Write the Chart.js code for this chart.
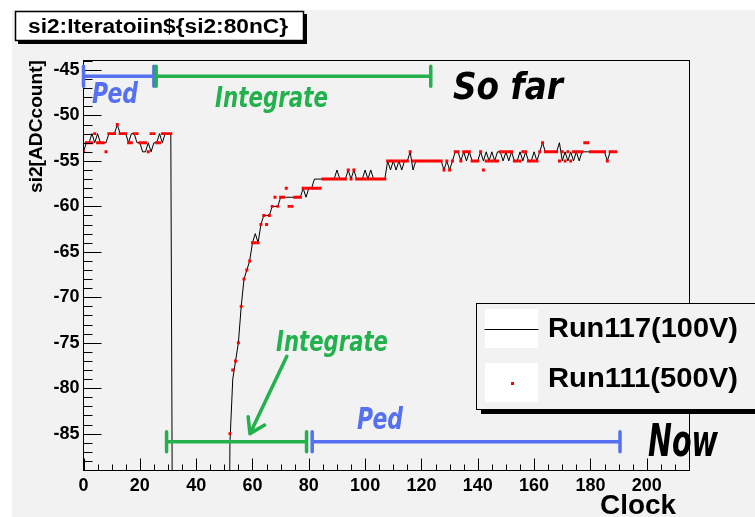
<!DOCTYPE html>
<html>
<head>
<meta charset="utf-8">
<script src="https://cdn.jsdelivr.net/npm/chart.js@4.4.1/dist/chart.umd.min.js"></script>
<style>
  html, body { margin: 0; padding: 0; background: #fff; }
</style>
</head>
<body>
<canvas id="chart" width="755" height="517"></canvas>
<script>
// ADC count per clock sample (index = clock). -130 = below the visible range.
const run117 = [
  -54,-53,-53,-52,-53,-52,-53,-53,-53,-52,-52,-52,-51,-52,-52,-52,-53,-52,-52,-53,-53,-54,-54,-53,-54,-53,-53,-52,-53,-52,-52,-52,
  -130,-130,-130,-130,-130,-130,-130,-130,-130,-130,-130,-130,-130,-130,-130,-130,-130,-130,-130,-130,
  -86,-79,-77,-75,-71,-68,-67,-66,-64,-63,-64,-62,-61,-61,-61,-60,-60,-60,-59,-59,-59,-59,-59,-59,-59,-59,-58,-59,-58,-58,
  -57,-57,-57,-57,-57,-57,-57,-57,-56,-57,-57,-57,-56,-57,-56,-57,-57,-57,-56,-57,-56,-57,-57,-57,-57,-57,
  -55,-56,-55,-56,-55,-56,-55,-55,-54,-56,-55,-55,-55,-55,-55,-55,-55,-55,-55,-55,-56,-55,-56,-55,
  -54,-54,-55,-54,-55,-54,-55,-55,-55,-54,-55,-54,-55,-54,-55,-54,-54,-55,-54,-55,-54,-55,-55,-54,-55,-54,-55,-55,-54,-55,-54,
  -53,-54,-54,-54,-54,-54,-53,-55,-54,-55,-54,-55,-54,-55,-54,-54,-54,-54,-54,-54,-54,-54,-54,-55,-54,-54
];
const run111 = [
  -54,-53,-53,-53,-52,-53,-53,-53,-54,-52,-52,-52,-51,-52,-52,-52,-53,-53,-52,-52,-53,-53,-53,-54,-52,-52,-53,-53,-52,-52,-52,-52,
  -130,-130,-130,-130,-130,-130,-130,-130,-130,-130,-130,-130,-130,-130,-130,-130,-130,-130,-130,-130,
  -85,-78,-77,-75,-71,-68,-67,-66,-64,-64,-64,-62,-61,-62,-61,-60,-59,-60,-59,-59,-58,-60,-60,-59,-59,-59,-58,-58,-58,-58,-58,-58,-58,
  -57,-57,-57,-57,-57,-57,-57,-57,-57,-56,-57,-56,-57,-57,-57,-57,-57,-57,-57,-57,-57,-57,-57,
  -55,-55,-55,-55,-55,-55,-55,-55,-54,-55,-55,-55,-55,-55,-55,-55,-55,-55,-55,-55,-56,-55,-56,-55,
  -54,-54,-55,-54,-54,-54,-55,-55,-55,-54,-56,-55,-55,-55,-55,-55,-54,-54,-54,-54,-54,-55,-55,-55,-54,-54,-55,-55,-55,-55,-54,
  -53,-54,-54,-54,-54,-54,-55,-54,-55,-54,-55,-54,-54,-54,-54,-53,-53,-54,-54,-54,-54,-54,-54,-55,-54,-54,-54
];
const seriesNames = ["Run117(100V)", "Run111(500V)"];
const titleText = "si2:Iteratoiin${si2:80nC}";
const xTitle = "Clock";
const yTitle = "si2[ADCcount]";

const GREEN = "#22b14c";
const BLUE = "#5570f0";
const FONT = '"Liberation Sans", Arial, sans-serif';
const HAND = '"DejaVu Sans Condensed", "DejaVu Sans", sans-serif';

function fitText(ctx, text, font, color, left, baseline, width) {
  ctx.save();
  ctx.font = font;
  ctx.fillStyle = color;
  ctx.textAlign = "left";
  ctx.textBaseline = "alphabetic";
  const w = ctx.measureText(text).width;
  ctx.translate(left, baseline);
  ctx.scale(width / w, 1);
  ctx.fillText(text, 0, 0);
  ctx.restore();
}

const rootStyle = {
  id: "rootStyle",
  beforeDraw(chart) {
    const ctx = chart.ctx;
    ctx.save();
    ctx.fillStyle = "#fff";
    ctx.fillRect(0, 0, chart.width, chart.height);
    ctx.fillStyle = "#f2f2f2";
    ctx.fillRect(12, 10, chart.width - 12, chart.height - 10);
    ctx.restore();
  },
  afterDatasetsDraw(chart) {
    const ctx = chart.ctx;
    const a = chart.chartArea;
    const xs = chart.scales.x, ys = chart.scales.y;
    const X = v => xs.getPixelForValue(v);
    const Y = v => ys.getPixelForValue(v);
    const L = Math.floor(a.left) + 0.5, T = Math.floor(a.top) + 0.5;
    const R = Math.floor(a.right) + 0.5, B = Math.floor(a.bottom) + 0.5;

    ctx.save();
    // frame + inside ticks
    ctx.strokeStyle = "#000";
    ctx.lineWidth = 1;
    ctx.strokeRect(L, T, R - L, B - T);
    ctx.beginPath();
    for (let v = -89; v <= -44; v++) {
      const py = Math.round(Y(v)) + 0.5;
      const len = v % 5 === 0 ? 18 : 9;
      ctx.moveTo(L, py); ctx.lineTo(L + len, py);
    }
    for (let v = 0; v <= 215; v += 5) {
      const px = Math.round(X(v)) + 0.5;
      const len = v % 20 === 0 ? 12 : 6;
      ctx.moveTo(px, B); ctx.lineTo(px, B - len);
    }
    ctx.stroke();

    // annotation brackets
    const brackets = [
      { from: 0, to: 25, y: -45.7, color: BLUE },
      { from: 25.8, to: 123.3, y: -45.7, color: GREEN },
      { from: 29.5, to: 79.2, y: -85.9, color: GREEN },
      { from: 81.2, to: 190.5, y: -85.9, color: BLUE }
    ];
    ctx.lineCap = "round";
    ctx.lineWidth = 3.5;
    brackets.forEach(b => {
      const x1 = X(b.from), x2 = X(b.to), py = Y(b.y);
      ctx.strokeStyle = b.color;
      ctx.beginPath();
      ctx.moveTo(x1, py); ctx.lineTo(x2, py);
      ctx.moveTo(x1, py - 10); ctx.lineTo(x1, py + 10);
      ctx.moveTo(x2, py - 10); ctx.lineTo(x2, py + 10);
      ctx.stroke();
    });

    // arrow
    const ax1 = X(72.2), ay1 = Y(-76.5), ax2 = X(59.1), ay2 = Y(-85.0);
    const ang = Math.atan2(ay1 - ay2, ax1 - ax2);
    ctx.strokeStyle = GREEN;
    ctx.lineWidth = 3.5;
    ctx.beginPath();
    ctx.moveTo(ax1, ay1); ctx.lineTo(ax2, ay2);
    [-0.55, 0.6].forEach(d => {
      ctx.moveTo(ax2, ay2);
      ctx.lineTo(ax2 + 17 * Math.cos(ang + d), ay2 + 17 * Math.sin(ang + d));
    });
    ctx.stroke();

    // hand-written labels
    fitText(ctx, "Ped", "italic bold 29px " + HAND, BLUE, 92, 103, 46);
    fitText(ctx, "Integrate", "italic bold 29px " + HAND, GREEN, 215, 107, 113);
    fitText(ctx, "So far", "italic bold 38px " + HAND, "#000", 453, 99, 110);
    fitText(ctx, "Integrate", "italic bold 29px " + HAND, GREEN, 276, 351, 112);
    fitText(ctx, "Ped", "italic bold 30px " + HAND, BLUE, 357, 429, 46);
    fitText(ctx, "Now", "italic bold 44px " + HAND, "#000", 648, 456, 70);

    // legend box
    ctx.fillStyle = "#000";
    ctx.fillRect(481, 308, 290, 106);
    ctx.fillStyle = "#f2f2f2";
    ctx.fillRect(476, 303, 290, 106);
    ctx.strokeStyle = "#000";
    ctx.lineWidth = 1;
    ctx.strokeRect(476.5, 303.5, 290, 106);
    ctx.fillStyle = "#fff";
    ctx.fillRect(485, 309, 53, 39);
    ctx.fillRect(485, 363, 53, 39);
    ctx.beginPath();
    ctx.moveTo(485, 329.5); ctx.lineTo(538, 329.5);
    ctx.stroke();
    ctx.fillStyle = "#f00";
    ctx.fillRect(511, 382, 3, 3);
    fitText(ctx, seriesNames[0], "bold 28px " + FONT, "#000", 548, 337, 190);
    fitText(ctx, seriesNames[1], "bold 28px " + FONT, "#000", 548, 387, 190);

    // title box
    ctx.fillStyle = "#000";
    ctx.fillRect(18, 14, 289, 30);
    ctx.fillStyle = "#fff";
    ctx.fillRect(15, 11, 289, 30);
    ctx.lineWidth = 1.5;
    ctx.strokeRect(15.5, 11.5, 288, 29);
    fitText(ctx, titleText, "bold 20px " + FONT, "#000", 28, 33, 260);

    // axis titles
    fitText(ctx, xTitle, "bold 28px " + FONT, "#000", 600, 514, 76);
    ctx.save();
    ctx.translate(42, 193);
    ctx.rotate(-Math.PI / 2);
    fitText(ctx, yTitle, "bold 19px " + FONT, "#000", 0, 0, 133);
    ctx.restore();
    ctx.restore();
  }
};

new Chart(document.getElementById("chart"), {
  type: "line",
  data: {
    datasets: [
      {
        label: seriesNames[1],
        data: run111.map((v, i) => ({ x: i, y: v })),
        showLine: false,
        pointStyle: "rect",
        pointRadius: 2.1,
        pointBorderWidth: 0,
        pointBackgroundColor: "#f00",
        borderColor: "#f00"
      },
      {
        label: seriesNames[0],
        data: run117.map((v, i) => ({ x: i, y: v })),
        borderColor: "#000",
        borderWidth: 1,
        pointRadius: 0,
        tension: 0,
        fill: false
      }
    ]
  },
  options: {
    responsive: false,
    animation: false,
    events: [],
    layout: { padding: { left: 12, top: 60, right: 66, bottom: 0 } },
    plugins: { legend: { display: false }, tooltip: { enabled: false } },
    scales: {
      x: {
        type: "linear",
        min: 0,
        max: 215,
        grid: { display: false, drawTicks: false },
        border: { display: false },
        ticks: {
          stepSize: 20,
          includeBounds: false,
          autoSkip: false,
          maxRotation: 0,
          padding: 5,
          color: "#000",
          font: { family: FONT, weight: "bold", size: 18 }
        },
        afterFit(s) { s.height = 47; }
      },
      y: {
        type: "linear",
        min: -89,
        max: -43.9,
        grid: { display: false, drawTicks: false },
        border: { display: false },
        ticks: {
          stepSize: 5,
          includeBounds: false,
          padding: 4,
          color: "#000",
          font: { family: FONT, weight: "bold", size: 18 }
        },
        afterFit(s) { s.width = 71.5; }
      }
    }
  },
  plugins: [rootStyle]
});
</script>
</body>
</html>
